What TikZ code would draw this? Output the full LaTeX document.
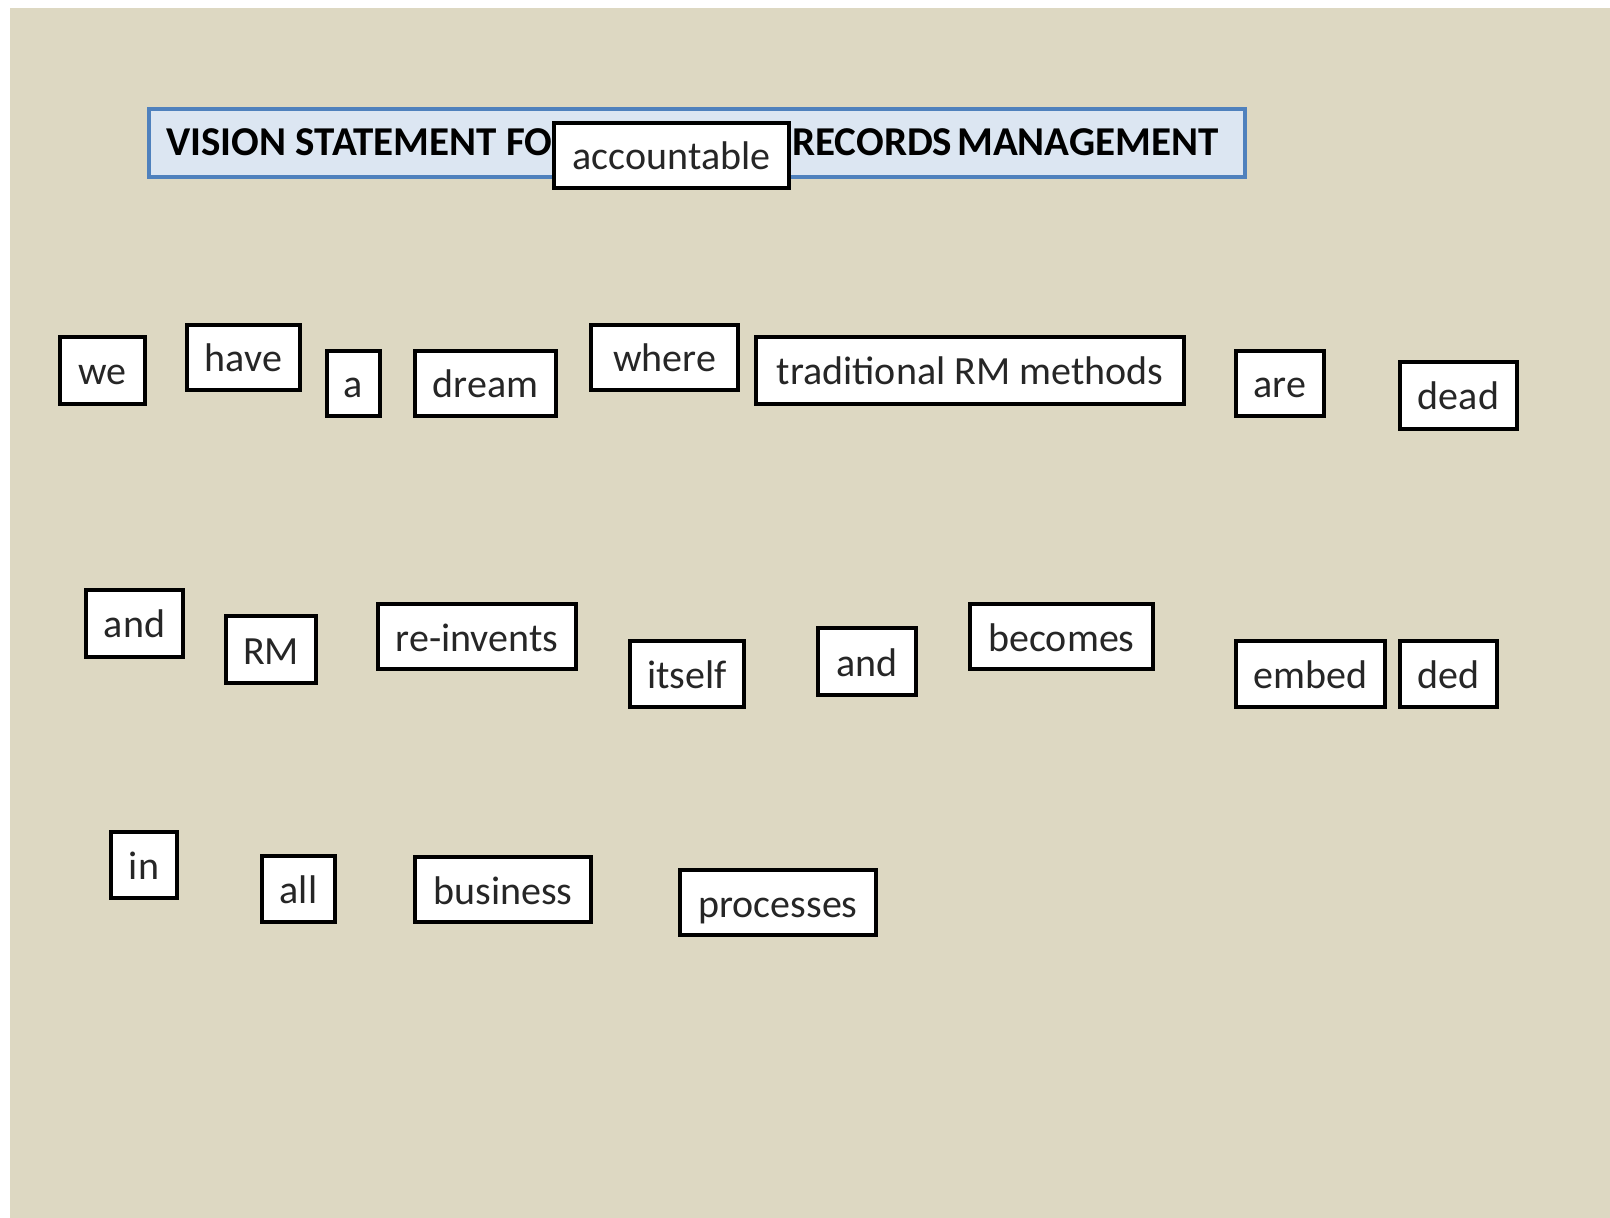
\documentclass[tikz,border=0pt]{standalone}
\usepackage{fontspec}
\setmainfont{Carlito}
\definecolor{slidebg}{HTML}{DDD8C2}
\definecolor{titlefill}{HTML}{DCE6F2}
\definecolor{titleline}{HTML}{4F81BD}
\definecolor{wordtext}{HTML}{262626}
\tikzset{
  wbox/.style={draw=black, fill=white, line width=2pt, inner sep=0pt,
    text height=14.5pt, text depth=0pt, text=wordtext,
    font=\fontsize{20}{24}\selectfont},
  titlebox/.style={draw=titleline, fill=titlefill, line width=1.8pt, inner sep=0pt},
  titletext/.style={font=\fontsize{20.5}{24}\selectfont\bfseries, inner sep=0pt, anchor=base west}
}
% one framed word: name, x1, y1, x2, y2 (pixel units), text
\newcommand\wordbox[6]{%
  \node[wbox, minimum width={(#4-#2)*0.5pt}, minimum height={(#5-#3)*0.5pt}]
    (#1) at ({(#2+#4)/2},{(#3+#5)/2}) {#6};}
\begin{document}
\begin{tikzpicture}[x=0.5pt, y=-0.5pt]
\useasboundingbox (0,0) rectangle (1610,1218);
\fill[white] (0,0) rectangle (1610,1218);
\fill[slidebg] (10,8) rectangle (1610,1218);

% heading
\node[titlebox, minimum width={(1245-149)*0.5pt}, minimum height={(177-109)*0.5pt}]
  (title) at ({(149+1245)/2},{(109+177)/2}) {};
\node[titletext] (titleA) at (166,156) {VISION STATEMENT FOR};
\node[titletext] (titleB) at (792,156) {RECORDS\hspace{0.12em}MANAGEMENT};
\wordbox{accountable}{554}{123}{789}{188}{accountable}

% first row
\wordbox{we}{60}{337}{145}{404}{we}
\wordbox{have}{187}{325}{300}{390}{have}
\wordbox{a}{327}{351}{380}{416}{a}
\wordbox{dream}{415}{351}{556}{416}{dream}
\wordbox{where}{591}{325}{738}{390}{where}
\wordbox{trad}{756}{337}{1184}{404}{traditional RM methods}
\wordbox{are}{1236}{351}{1324}{416}{are}
\wordbox{dead}{1400}{362}{1517}{429}{dead}

% second row
\wordbox{andA}{86}{590}{183}{657}{and}
\wordbox{rm}{226}{616}{316}{683}{RM}
\wordbox{reinvents}{378}{604}{576}{669}{re-invents}
\wordbox{itself}{630}{641}{744}{707}{itself}
\wordbox{andB}{818}{628}{916}{695}{and}
\wordbox{becomes}{970}{604}{1153}{669}{becomes}
\wordbox{embed}{1236}{641}{1385}{707}{embed}
\wordbox{ded}{1400}{641}{1497}{707}{ded}

% third row
\wordbox{in}{111}{832}{177}{898}{in}
\wordbox{all}{262}{856}{335}{922}{all}
\wordbox{business}{415}{857}{591}{922}{business}
\wordbox{processes}{680}{870}{876}{935}{processes}
\end{tikzpicture}
\end{document}
